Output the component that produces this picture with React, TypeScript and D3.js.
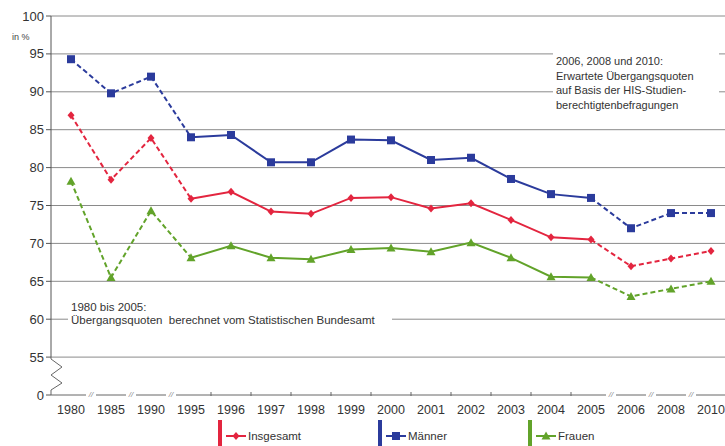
import React from "react";
import * as d3 from "d3";

const years = ["1980","1985","1990","1995","1996","1997","1998","1999","2000","2001","2002","2003","2004","2005","2006","2008","2010"];
const insgesamt = [86.9,78.4,83.9,75.9,76.8,74.2,73.9,76.0,76.1,74.6,75.3,73.1,70.8,70.5,67.0,68.0,69.0];
const maenner = [94.3,89.8,92.0,84.0,84.3,80.7,80.7,83.7,83.6,81.0,81.3,78.5,76.5,76.0,72.0,74.0,74.0];
const frauen = [78.2,65.5,74.3,68.1,69.7,68.1,67.9,69.2,69.4,68.9,70.1,68.1,65.6,65.5,63.0,64.0,65.0];
const yTicks = [55,60,65,70,75,80,85,90,95,100];
const breakAfter = ["1980","1985","1990","2005","2006","2008"];
const noteRight = ["2006, 2008 und 2010:","Erwartete Übergangsquoten","auf Basis der HIS-Studien-","berechtigtenbefragungen"];
const noteLeft = ["1980 bis 2005:","Übergangsquoten  berechnet vom Statistischen Bundesamt"];

const RED = "#e3253f";
const BLUE = "#2b3b9c";
const GREEN = "#62a32a";
const FONT = "'Liberation Sans', Arial, sans-serif";

const series = [
  { name: "Insgesamt", values: insgesamt, color: RED, marker: "diamond" },
  { name: "Männer", values: maenner, color: BLUE, marker: "square" },
  { name: "Frauen", values: frauen, color: GREEN, marker: "triangle" },
];

function Marker({ type, x, y, color }: { type: string; x: number; y: number; color: string }) {
  if (type === "square") return <rect x={x - 4} y={y - 4} width={8} height={8} fill={color} />;
  if (type === "triangle") return <path d={`M${x},${y - 4.5}L${x + 4.5},${y + 3.5}L${x - 4.5},${y + 3.5}Z`} fill={color} />;
  return <path d={`M${x},${y - 4}L${x + 3.5},${y}L${x},${y + 4}L${x - 3.5},${y}Z`} fill={color} />;
}

export default function App() {
  const W = 725, H = 446;
  const axisX = 51;
  const y = d3.scaleLinear().domain([50, 100]).range([395, 16]);
  const x = d3.scalePoint<string>().domain(years).range([71, 711]);
  const line = d3.line<[number, number]>().x(d => d[0]).y(d => d[1]);
  const step = x.step();
  const i1995 = years.indexOf("1995");
  const i2005 = years.indexOf("2005");

  return (
    <svg width={W} height={H} style={{ position: "absolute", left: 0, top: 0, background: "#fff" }} fontFamily={FONT}>
      {yTicks.map(t => (
        <line key={t} x1={axisX} x2={W} y1={y(t)} y2={y(t)} stroke="#8a8a8a" strokeWidth={1} />
      ))}
      <line x1={axisX} x2={axisX} y1={y(100)} y2={y(55)} stroke="#555" strokeWidth={1} />
      <path d={`M${axisX},${y(55)} L${axisX},359 L62,367 L51,375 L62,383 L51,390 L${axisX},${y(50)}`} fill="none" stroke="#666" strokeWidth={1} />
      {yTicks.map(t => (
        <g key={t}>
          <line x1={axisX - 5} x2={axisX} y1={y(t)} y2={y(t)} stroke="#555" />
          <text x={44} y={y(t) + 4.5} textAnchor="end" fontSize={13} fill="#333">{t}</text>
        </g>
      ))}
      <line x1={axisX - 5} x2={axisX} y1={y(50)} y2={y(50)} stroke="#555" />
      <text x={44} y={y(50) + 4.5} textAnchor="end" fontSize={13} fill="#333">0</text>
      <text x={12} y={40} fontSize={9} fill="#444">in %</text>

      {(() => {
        const segs: JSX.Element[] = [];
        let start = axisX;
        years.forEach((yr, i) => {
          const mid = (x(yr) as number) + step / 2;
          if (breakAfter.includes(yr)) {
            segs.push(<line key={"s" + i} x1={start} x2={mid - 5} y1={395} y2={395} stroke="#666" />);
            segs.push(<text key={"b" + i} x={mid} y={397} textAnchor="middle" fontSize={8} fontStyle="italic" fill="#888">//</text>);
            start = mid + 5;
          } else if (i < years.length - 1) {
            segs.push(<line key={"t" + i} x1={mid} x2={mid} y1={392} y2={396} stroke="#666" />);
          }
        });
        segs.push(<line key="last" x1={start} x2={W} y1={395} y2={395} stroke="#666" />);
        return segs;
      })()}
      {years.map(yr => (
        <text key={yr} x={x(yr)} y={414} textAnchor="middle" fontSize={12.5} fill="#333">{yr}</text>
      ))}

      <rect x={553} y={46} width={166} height={68} fill="#fff" />
      {noteRight.map((t, i) => (
        <text key={t} x={556} y={65 + i * 14.5} fontSize={11} fill="#333">{t}</text>
      ))}
      <rect x={68} y={298} width={324} height={30} fill="#fff" />
      {noteLeft.map((t, i) => (
        <text key={t} x={71} y={311 + i * 12.5} fontSize={11.5} fill="#333" style={{ whiteSpace: "pre" }}>{t}</text>
      ))}

      {series.map(s => {
        const pts: [number, number][] = s.values.map((v, i) => [x(years[i]) as number, y(v)]);
        return (
          <g key={s.name}>
            <path d={line(pts.slice(0, i1995 + 1)) || ""} fill="none" stroke={s.color} strokeWidth={2} strokeDasharray="5,3" />
            <path d={line(pts.slice(i1995, i2005 + 1)) || ""} fill="none" stroke={s.color} strokeWidth={2} />
            <path d={line(pts.slice(i2005)) || ""} fill="none" stroke={s.color} strokeWidth={2} strokeDasharray="5,3" />
            {pts.map((p, i) => <Marker key={i} type={s.marker} x={p[0]} y={p[1]} color={s.color} />)}
          </g>
        );
      })}

      {series.map((s, i) => {
        const bx = [218, 378, 528][i];
        return (
          <g key={s.name}>
            <rect x={bx} y={420} width={4} height={26} fill={s.color} />
            <line x1={bx + 8} x2={bx + 28} y1={436} y2={436} stroke={s.color} strokeWidth={2} />
            <Marker type={s.marker} x={bx + 18} y={436} color={s.color} />
            <text x={bx + 30} y={440} fontSize={11.5} fill="#333">{s.name}</text>
          </g>
        );
      })}
    </svg>
  );
}
